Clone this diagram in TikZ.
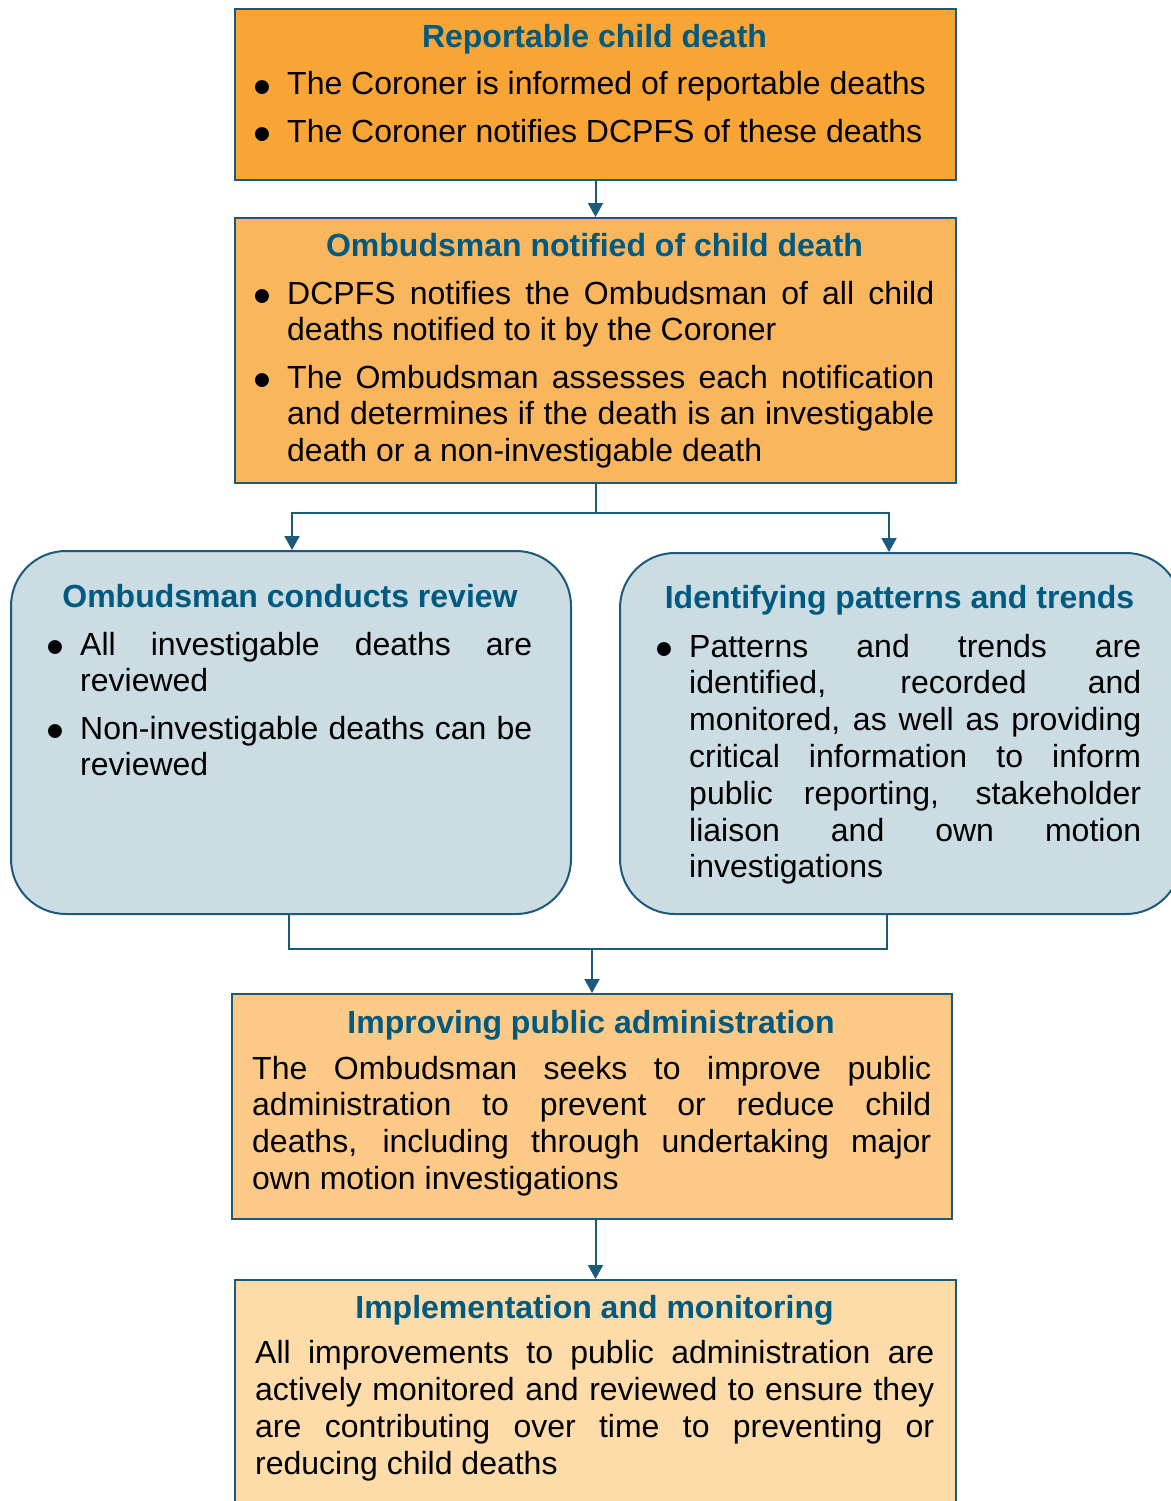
\documentclass[tikz,border=0pt]{standalone}
\usepackage{fontspec}
\setmainfont{Liberation Sans}
\usepackage{graphicx}
\usetikzlibrary{arrows.meta}
\definecolor{edge}{HTML}{1B5A7A}
\definecolor{ttl}{HTML}{005A80}
\definecolor{orA}{HTML}{F8A535}
\definecolor{orB}{HTML}{FAB65D}
\definecolor{orC}{HTML}{FDC987}
\definecolor{orD}{HTML}{FDDCAA}
\definecolor{blu}{HTML}{CBDCE3}
\newcommand\blt{\leavevmode\llap{\raisebox{-9.7pt}{\scalebox{1.6}{\textbullet}}\hspace{16pt}}}
\newcommand\isep{\par\vspace{10.5pt}}
\newcommand\parset{\tolerance=10000 \hbadness=10000 \hyphenpenalty=10000 \exhyphenpenalty=10000 \relax}
\tikzset{
 box/.style={draw=edge, line width=2pt, rectangle, inner sep=0pt, anchor=north west},
 rbox/.style={box, rounded corners=55pt},
 ttlnode/.style={anchor=base, inner sep=0pt, font=\fontsize{32pt}{36.8pt}\selectfont\bfseries, text=ttl},
 body/.style={anchor=base west, inner sep=0pt, align=justify,
   font=\fontsize{32pt}{36.8pt}\selectfont},
 conn/.style={draw=edge, line width=2pt},
 arr/.style={conn, -{Triangle[width=15pt,length=14pt]}},
}
\begin{document}
\begin{tikzpicture}[x=1pt,y=-1pt]
\path[use as bounding box, fill=white] (0,0) rectangle (1170,1501);

% boxes
\node[box, fill=orA, minimum width=721pt, minimum height=171pt] (b1) at (234,8) {};
\node[box, fill=orB, minimum width=721pt, minimum height=265pt] (b2) at (234,217) {};
\node[rbox, fill=blu, minimum width=560pt, minimum height=363pt] (b3) at (10,550) {};
\node[rbox, fill=blu, minimum width=561pt, minimum height=361pt] (b4) at (619,552) {};
\node[box, fill=orC, minimum width=720pt, minimum height=225pt] (b5) at (231,993) {};
\node[box, fill=orD, minimum width=721pt, minimum height=236pt] (b6) at (234,1279) {};

% texts
\node[ttlnode] (t1) at (594.5,48) {Reportable child death};
\node[body, text width=660pt] (x1) at (287,95) {\parset\blt The Coroner is informed of reportable deaths\isep
\blt The Coroner notifies DCPFS of these deaths};

\node[ttlnode] (t2) at (594.5,256) {Ombudsman notified of child death};
\node[body, text width=647pt] (x2) at (287,304) {\parset\blt DCPFS notifies the Ombudsman of all child\linebreak deaths notified to it by the Coroner\isep
\blt The Ombudsman assesses each notification\linebreak and determines if the death is an investigable\linebreak death or a non-investigable death};

\node[ttlnode] (t3) at (290,607) {Ombudsman conducts review};
\node[body, text width=452pt] (x3) at (80,655) {\parset\blt All investigable deaths are\linebreak reviewed\isep
\blt Non-investigable deaths can be\linebreak reviewed};

\node[ttlnode] (t4) at (899.5,608) {Identifying patterns and trends};
\node[body, text width=452pt] (x4) at (689,657) {\parset\blt Patterns and trends are\linebreak identified, recorded and\linebreak monitored, as well as providing\linebreak critical information to inform\linebreak public reporting, stakeholder\linebreak liaison and own motion\linebreak investigations};

\node[ttlnode] (t5) at (591,1033) {Improving public administration};
\node[body, text width=679pt] (x5) at (252,1079) {\parset The Ombudsman seeks to improve public\linebreak administration to prevent or reduce child\linebreak deaths, including through undertaking major\linebreak own motion investigations};

\node[ttlnode] (t6) at (594.5,1318) {Implementation and monitoring};
\node[body, text width=679pt, font=\fontsize{32pt}{37.3pt}\selectfont] (x6) at (255,1363) {\parset All improvements to public administration are\linebreak actively monitored and reviewed to ensure they\linebreak are contributing over time to preventing or\linebreak reducing child deaths};

% connectors
\draw[arr] (b1.south) -- (b2.north);
\coordinate (sp) at (596,513);
\draw[arr] (b2.south -| sp) -- (sp) -| ([xshift=1pt]b3.north);
\draw[arr] (sp) -| ([xshift=-11.5pt]b4.north);
\coordinate (mg) at (592,949);
\draw[conn] ([xshift=-2pt]b3.south) |- (mg);
\draw[conn] ([xshift=-13.5pt]b4.south) |- (mg);
\draw[arr] (mg) -- (b5.north -| mg);
\draw[arr] (b5.south -| b6.north) -- (b6.north);
\end{tikzpicture}
\end{document}
